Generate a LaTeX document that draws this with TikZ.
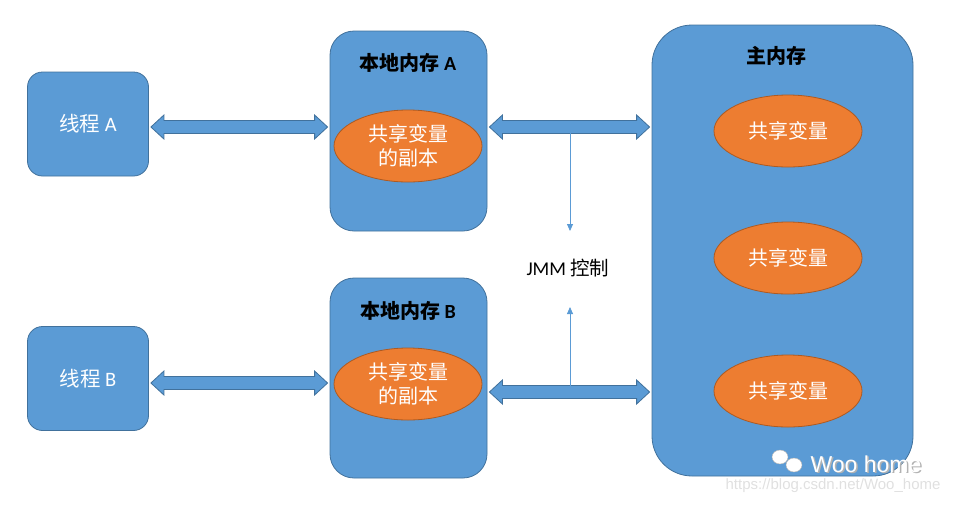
\documentclass[tikz,border=0pt]{standalone}
\usepackage{fontspec}
\setmainfont{Carlito}
\newfontfamily\cjk{Noto Sans CJK SC}
\newfontfamily\wmfont{Liberation Sans}
\usetikzlibrary{shapes.geometric,arrows.meta,calc}

\definecolor{boxblue}{HTML}{5B9BD5}
\definecolor{boxline}{HTML}{41719C}
\definecolor{ovalorange}{HTML}{ED7D31}
\definecolor{ovalline}{HTML}{AE5A21}

\tikzset{
  box/.style={draw=boxline, fill=boxblue, line width=0.8pt, inner sep=0pt},
  thread/.style={box, rounded corners=15pt, minimum width=121pt, minimum height=104pt,
    text=white, font=\fontsize{20.5}{24}\selectfont},
  localmem/.style={box, rounded corners=24pt, minimum width=157pt, minimum height=200pt},
  mainmem/.style={box, rounded corners=40pt, minimum width=261pt, minimum height=451pt},
  shared/.style={ellipse, draw=ovalline, fill=ovalorange, line width=0.8pt, inner sep=0pt,
    minimum width=148pt, minimum height=72pt, text=white, align=center,
    font=\cjk\fontsize{20}{24}\selectfont},
  title/.style={font=\bfseries\fontsize{20}{24}\selectfont},
  fatarrow/.style={draw=boxline, fill=boxblue, line width=0.8pt},
  ctrl/.style={draw=boxblue, line width=0.8pt, -{Triangle[width=6pt,length=7pt]}}
}

% double block arrow between two points on one row
\newcommand\fatarrow[2]{%
  \draw[fatarrow] let \p1=(#1), \p2=(#2) in
    (\x1+2pt,\y1) -- (\x1+15pt,\y1+12pt) -- (\x1+15pt,\y1+6.5pt) --
    (\x2-15pt,\y1+6.5pt) -- (\x2-15pt,\y1+12pt) -- (\x2-2pt,\y1) --
    (\x2-15pt,\y1-12pt) -- (\x2-15pt,\y1-6.5pt) -- (\x1+15pt,\y1-6.5pt) --
    (\x1+15pt,\y1-12pt) -- cycle;}

\begin{document}
\begin{tikzpicture}[x=1pt,y=-1pt]
\useasboundingbox (0,0) rectangle (955,504);

% threads
\node[thread] (thrA) at (88,124) {{\cjk 线程} A};
\node[thread] (thrB) at (88,378.5) {{\cjk 线程} B};

% local memories
\node[localmem] (locA) at (408.5,131) {};
\node[localmem] (locB) at (408.5,378) {};
\node[title] (titA) at (408,63) {{\cjk 本地内存} A};
\node[title] (titB) at (408,311) {{\cjk 本地内存} B};
\node[shared] (cpyA) at (408,146) {共享变量\\的副本};
\node[shared] (cpyB) at (408,384) {共享变量\\的副本};

% main memory
\node[mainmem] (mainmem) at (782.5,250.5) {};
\node[title, font=\cjk\bfseries\fontsize{20}{24}\selectfont] (titM) at (776,56) {主内存};
\node[shared] (var1) at (788,131) {共享变量};
\node[shared] (var2) at (788,258) {共享变量};
\node[shared] (var3) at (788,391) {共享变量};

% block arrows
\coordinate (rowA) at (0,127);
\coordinate (rowB) at (0,383);
\coordinate (rowM) at (0,392);
\fatarrow{thrA.east |- rowA}{locA.west |- rowA}
\fatarrow{locA.east |- rowA}{mainmem.west |- rowA}
\fatarrow{thrB.east |- rowB}{locB.west |- rowB}
\fatarrow{locB.east |- rowM}{mainmem.west |- rowM}

% JMM control
\node[font=\fontsize{19.5}{23}\selectfont] (jmm) at (568,268) {JMM {\cjk 控制}};
\coordinate (topsrc) at (570,133);
\coordinate (topdst) at (570,231);
\coordinate (botsrc) at (570,386);
\coordinate (botdst) at (570,307);
\draw[ctrl] (topsrc) -- (topdst);
\draw[ctrl] (botsrc) -- (botdst);

% watermark
\fill[white, draw=gray!60, line width=0.4pt] (780,457) ellipse (8pt and 7pt);
\fill[white, draw=gray!60, line width=0.4pt] (794,465) ellipse (8pt and 7pt);
\node[text=gray!60, font=\wmfont\fontsize{23}{26}\selectfont] (wmshadow) at (867.5,465.5) {Woo home};
\node[text=white, font=\wmfont\fontsize{23}{26}\selectfont] (wmname) at (866,464) {Woo home};
\node[text=black!12, font=\wmfont\fontsize{15}{18}\selectfont] (wmurl) at (833,486) {https://blog.csdn.net/Woo\_home};
\end{tikzpicture}
\end{document}
